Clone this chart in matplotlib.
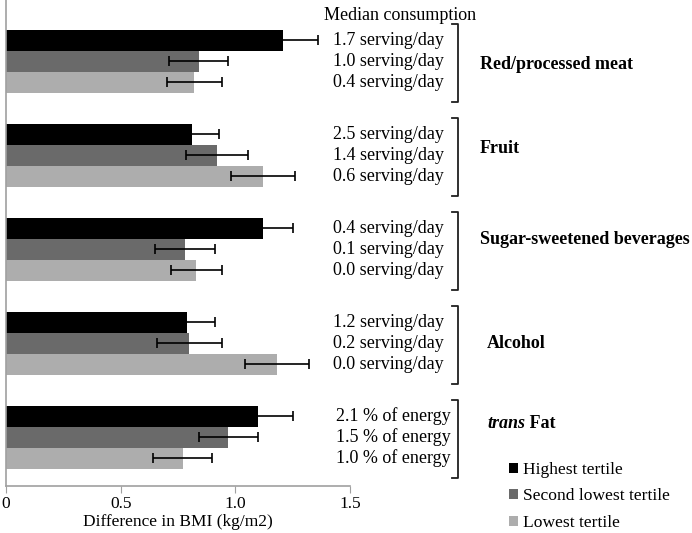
import numpy as np
import matplotlib.pyplot as plt
from matplotlib.patches import Patch
from matplotlib.transforms import blended_transform_factory

plt.rcParams['font.family'] = ['Liberation Serif', 'DejaVu Serif']
plt.rcParams['font.size'] = 13

# --- Dades ---
categories = ['Red/processed meat', 'Fruit', 'Sugar-sweetened beverages', 'Alcohol', 'trans Fat']
tertiles = ['Highest tertile', 'Second lowest tertile', 'Lowest tertile']
highest = [1.21, 0.81, 1.12, 0.79, 1.10]
second = [0.84, 0.92, 0.78, 0.80, 0.97]
lowest = [0.82, 1.12, 0.83, 1.18, 0.77]
err_highest = [0.15, 0.12, 0.13, 0.12, 0.15]
err_second = [0.13, 0.135, 0.13, 0.14, 0.13]
err_lowest = [0.12, 0.14, 0.11, 0.14, 0.13]
consumption = [
    ['1.7 serving/day', '1.0 serving/day', '0.4 serving/day'],
    ['2.5 serving/day', '1.4 serving/day', '0.6 serving/day'],
    ['0.4 serving/day', '0.1 serving/day', '0.0 serving/day'],
    ['1.2 serving/day', '0.2 serving/day', '0.0 serving/day'],
    ['2.1 % of energy', '1.5 % of energy', '1.0 % of energy'],
]
colors = ['#000000', '#6a6a6a', '#adadad']

W, H = 692, 533
fig = plt.figure(figsize=(W / 100, H / 100), dpi=100)
ax = fig.add_axes([6 / W, (H - 486) / H, (350 - 6) / W, 486 / H])

h = 0.224
y = np.arange(len(categories))
series = [(highest, err_highest), (second, err_second), (lowest, err_lowest)]
for i, (vals, errs) in enumerate(series):
    pos = y + (i - 1) * h
    ax.barh(pos, vals, height=h, color=colors[i], label=tertiles[i])
    ax.errorbar(vals, pos, xerr=errs, fmt='none', ecolor='black',
                elinewidth=1.2, capsize=3.5, capthick=1.2)

ax.set_xlim(0, 1.5)
ax.set_ylim(4.52, -0.65)
ax.set_xticks([0, 0.5, 1.0, 1.5])
ax.set_xticklabels(['0', '0.5', '1.0', '1.5'])
ax.set_yticks([])
for s in ['top', 'right']:
    ax.spines[s].set_visible(False)
for s in ['left', 'bottom']:
    ax.spines[s].set_color('#a0a0a0')
    ax.spines[s].set_linewidth(1.2)
ax.tick_params(axis='x', direction='out', length=5, color='#a0a0a0', pad=2.5, labelsize=12.5)
fig.text(178 / W, 1 - 522 / H, 'Difference in BMI (kg/m2)', ha='center', va='center',
         fontsize=12.5)

# --- Textos a la dreta ---
tr = blended_transform_factory(fig.transFigure, ax.transData)
fig.text(400 / W, 1 - 15 / H, 'Median consumption', ha='center', va='center')
label_dy = [0.04, -0.07, -0.1, 0.0, -0.15]
for g, labels in enumerate(consumption):
    for i, lab in enumerate(labels):
        xr = 451 if '%' in lab else 444
        ax.text(xr / W, g + (i - 1) * h, lab, transform=tr, ha='right', va='center', clip_on=False)
    # claudàtor
    bx = 458 / W
    tk = 6 / W
    ax.plot([bx - tk, bx, bx, bx - tk], [g - 0.39, g - 0.39, g + 0.43, g + 0.43],
            transform=tr, color='#202020', lw=1.3, clip_on=False)
    if categories[g].startswith('trans'):
        t = ax.text(487 / W, g + label_dy[g], 'trans', transform=tr, ha='left', va='center',
                    fontweight='bold', fontstyle='italic', clip_on=False)
        ax.annotate(' Fat', xy=(1, 0), xycoords=t, va='bottom', ha='left',
                    fontweight='bold', annotation_clip=False)
    else:
        xl = 487 if categories[g] == 'Alcohol' else 480
        ax.text(xl / W, g + label_dy[g], categories[g], transform=tr,
                ha='left', va='center', fontweight='bold', clip_on=False)

handles = [Patch(facecolor=c) for c in colors]
fig.legend(handles, tertiles, loc='upper left', bbox_to_anchor=(500 / W, 1 - 453 / H),
           frameon=False, handlelength=0.5, handleheight=0.5, handletextpad=0.3,
           labelspacing=0.6, borderpad=0, fontsize=12.6)

fig.savefig('out.png', dpi=100)
